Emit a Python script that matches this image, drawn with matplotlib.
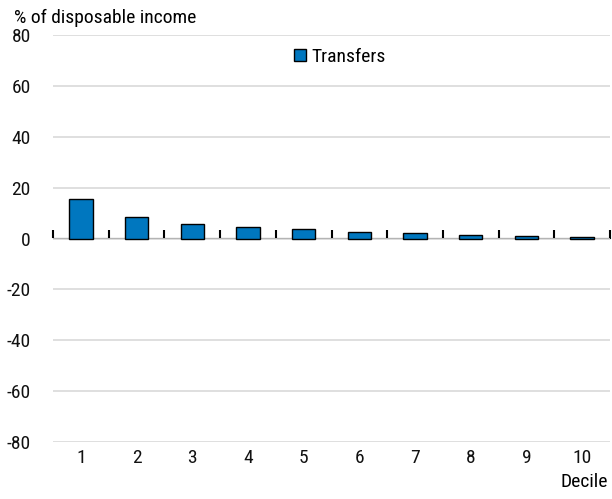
import matplotlib
matplotlib.use("Agg")
from matplotlib import pyplot as plt
import numpy as np

deciles = ["1", "2", "3", "4", "5", "6", "7", "8", "9", "10"]
transfers = [15.5, 8.5, 5.7, 4.4, 3.9, 2.7, 2.0, 1.2, 1.0, 0.4]
y_ticks = [-80, -60, -40, -20, 0, 20, 40, 60, 80]

plt.rcParams['font.family'] = ['Roboto Condensed', 'Liberation Sans Narrow', 'Liberation Sans', 'DejaVu Sans']
plt.rcParams['font.stretch'] = 'condensed'
plt.rcParams['font.size'] = 14

fig = plt.figure(figsize=(6.12, 4.99), dpi=100)
ax = fig.add_axes([53 / 612, 57 / 499, 557 / 612, 407 / 499])

x = np.arange(len(deciles))
ax.bar(x, transfers, width=0.42, color='#0077BF', edgecolor='black', linewidth=1,
       label='Transfers', zorder=3)

ax.set_xlim(-0.5, len(deciles) - 0.5)
ax.set_ylim(-80, 80)
ax.set_yticks(y_ticks)
ax.set_yticklabels([str(v) for v in y_ticks])
ax.set_xticks(x)
ax.set_xticklabels(deciles)
ax.tick_params(axis='both', length=0, colors='#111111')
ax.tick_params(axis='y', pad=16)
ax.tick_params(axis='x', pad=5)
ax.grid(axis='y', color='#d9d9d9', linewidth=1.2, zorder=0)
for s in ax.spines.values():
    s.set_visible(False)

# zero line with category separators
zero = ax.secondary_xaxis(0.5)
zero.spines['bottom'].set_color('black')
zero.spines['bottom'].set_linewidth(1.5)
zero.set_xticks(x)
zero.set_xticks(np.arange(len(deciles) + 1) - 0.5, minor=True)
zero.tick_params(axis='x', which='major', length=0, labelbottom=False, labeltop=False)
zero.tick_params(axis='x', which='minor', direction='out', length=6, width=1.5,
                 color='black', labelbottom=False, labeltop=False)

ax.legend(loc='upper center', bbox_to_anchor=(0.515, 1.012), frameon=False,
          handlelength=0.6, handleheight=0.6, handletextpad=0.3, fontsize=14)

fig.text(14 / 612, 1 - 18 / 499, '% of disposable income', ha='left', va='center', fontsize=14)
fig.text(608 / 612, 1 - 482 / 499, 'Decile', ha='right', va='center', fontsize=14)

fig.savefig('out.png', dpi=100)
